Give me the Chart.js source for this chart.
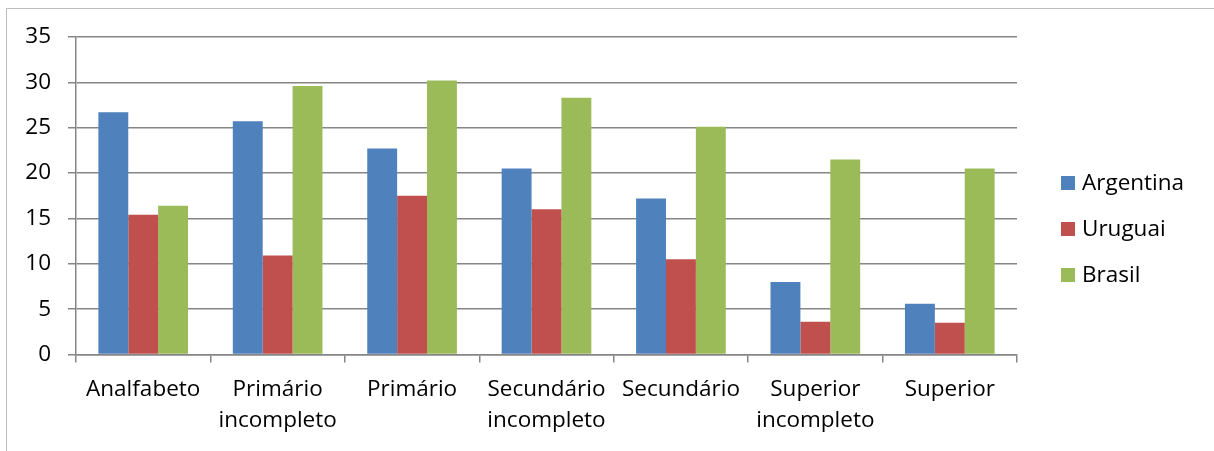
<!DOCTYPE html>
<html>
<head>
<meta charset="utf-8">
<script src="https://cdn.jsdelivr.net/npm/chart.js@4/dist/chart.umd.min.js"></script>
<style>
  html, body { margin: 0; padding: 0; background: #fff; }
  #wrap { position: relative; width: 1214px; height: 451px; overflow: hidden; }
  #frame { position: absolute; left: 6px; top: 8px; width: 1220px; height: 460px;
           border: 1px solid #bfbfbf; box-sizing: border-box; pointer-events: none; }
  canvas { position: absolute; left: 0; top: 0; }
</style>
</head>
<body>
<div id="wrap">
  <canvas id="c" width="1214" height="451"></canvas>
  <div id="frame"></div>
</div>
<script>
// Escolaridade por país
const categories = [
  'Analfabeto',
  ['Primário', 'incompleto'],
  'Primário',
  ['Secundário', 'incompleto'],
  'Secundário',
  ['Superior', 'incompleto'],
  'Superior'
];
const argentina = [26.7, 25.7, 22.7, 20.5, 17.2, 8.0, 5.6];
const uruguai   = [15.4, 10.9, 17.5, 16.0, 10.5, 3.6, 3.5];
const brasil    = [16.4, 29.6, 30.2, 28.3, 25.1, 21.5, 20.5];
const yTicks    = [0, 5, 10, 15, 20, 25, 30, 35];

const FONT = '"Open Sans", "Noto Sans", sans-serif';
const FONT_SIZE = 22.5;
const GRID = '#868686';

// Legend drawn at the right of the plot, one row per dataset
const sideLegend = {
  id: 'sideLegend',
  afterDraw(chart) {
    const ctx = chart.ctx;
    const x0 = 1061, y0 = 183, step = 46, box = 14;
    ctx.save();
    ctx.font = FONT_SIZE + 'px ' + FONT;
    ctx.textBaseline = 'middle';
    ctx.textAlign = 'left';
    chart.data.datasets.forEach((ds, i) => {
      const y = y0 + i * step;
      ctx.fillStyle = ds.backgroundColor;
      ctx.fillRect(x0, y - box / 2, box, box);
      ctx.fillStyle = '#000';
      ctx.fillText(ds.label, x0 + box + 7, y + 1);
    });
    ctx.restore();
  }
};

new Chart(document.getElementById('c'), {
  type: 'bar',
  data: {
    labels: categories,
    datasets: [
      { label: 'Argentina', data: argentina, backgroundColor: '#4F81BD' },
      { label: 'Uruguai',   data: uruguai,   backgroundColor: '#C0504D' },
      { label: 'Brasil',    data: brasil,    backgroundColor: '#9BBB59' }
    ]
  },
  options: {
    responsive: false,
    animation: false,
    devicePixelRatio: 1,
    layout: { padding: { left: 0, right: 197, top: 37, bottom: 0 } },
    datasets: { bar: { categoryPercentage: 0.667, barPercentage: 1.0 } },
    plugins: {
      legend: { display: false },
      tooltip: { enabled: false }
    },
    scales: {
      x: {
        offset: true,
        grid: {
          offset: true,
          drawOnChartArea: false,
          drawTicks: true,
          tickLength: 8,
          color: GRID,
          lineWidth: 1.5
        },
        border: { display: true, color: GRID, width: 1.5 },
        ticks: {
          color: '#000',
          padding: 12,
          maxRotation: 0,
          autoSkip: false,
          font: { family: FONT, size: FONT_SIZE, lineHeight: 31 / FONT_SIZE }
        },
        afterFit(scale) { scale.height = 96.5; }
      },
      y: {
        min: 0,
        max: 35,
        afterBuildTicks(scale) { scale.ticks = yTicks.map(v => ({ value: v })); },
        grid: {
          color: GRID,
          lineWidth: 1.5,
          tickLength: 8
        },
        border: { display: true, color: GRID, width: 1.5 },
        ticks: {
          color: '#000',
          padding: 17,
          font: { family: FONT, size: FONT_SIZE }
        },
        afterFit(scale) { scale.width = 76; }
      }
    }
  },
  plugins: [sideLegend]
});
</script>
</body>
</html>
